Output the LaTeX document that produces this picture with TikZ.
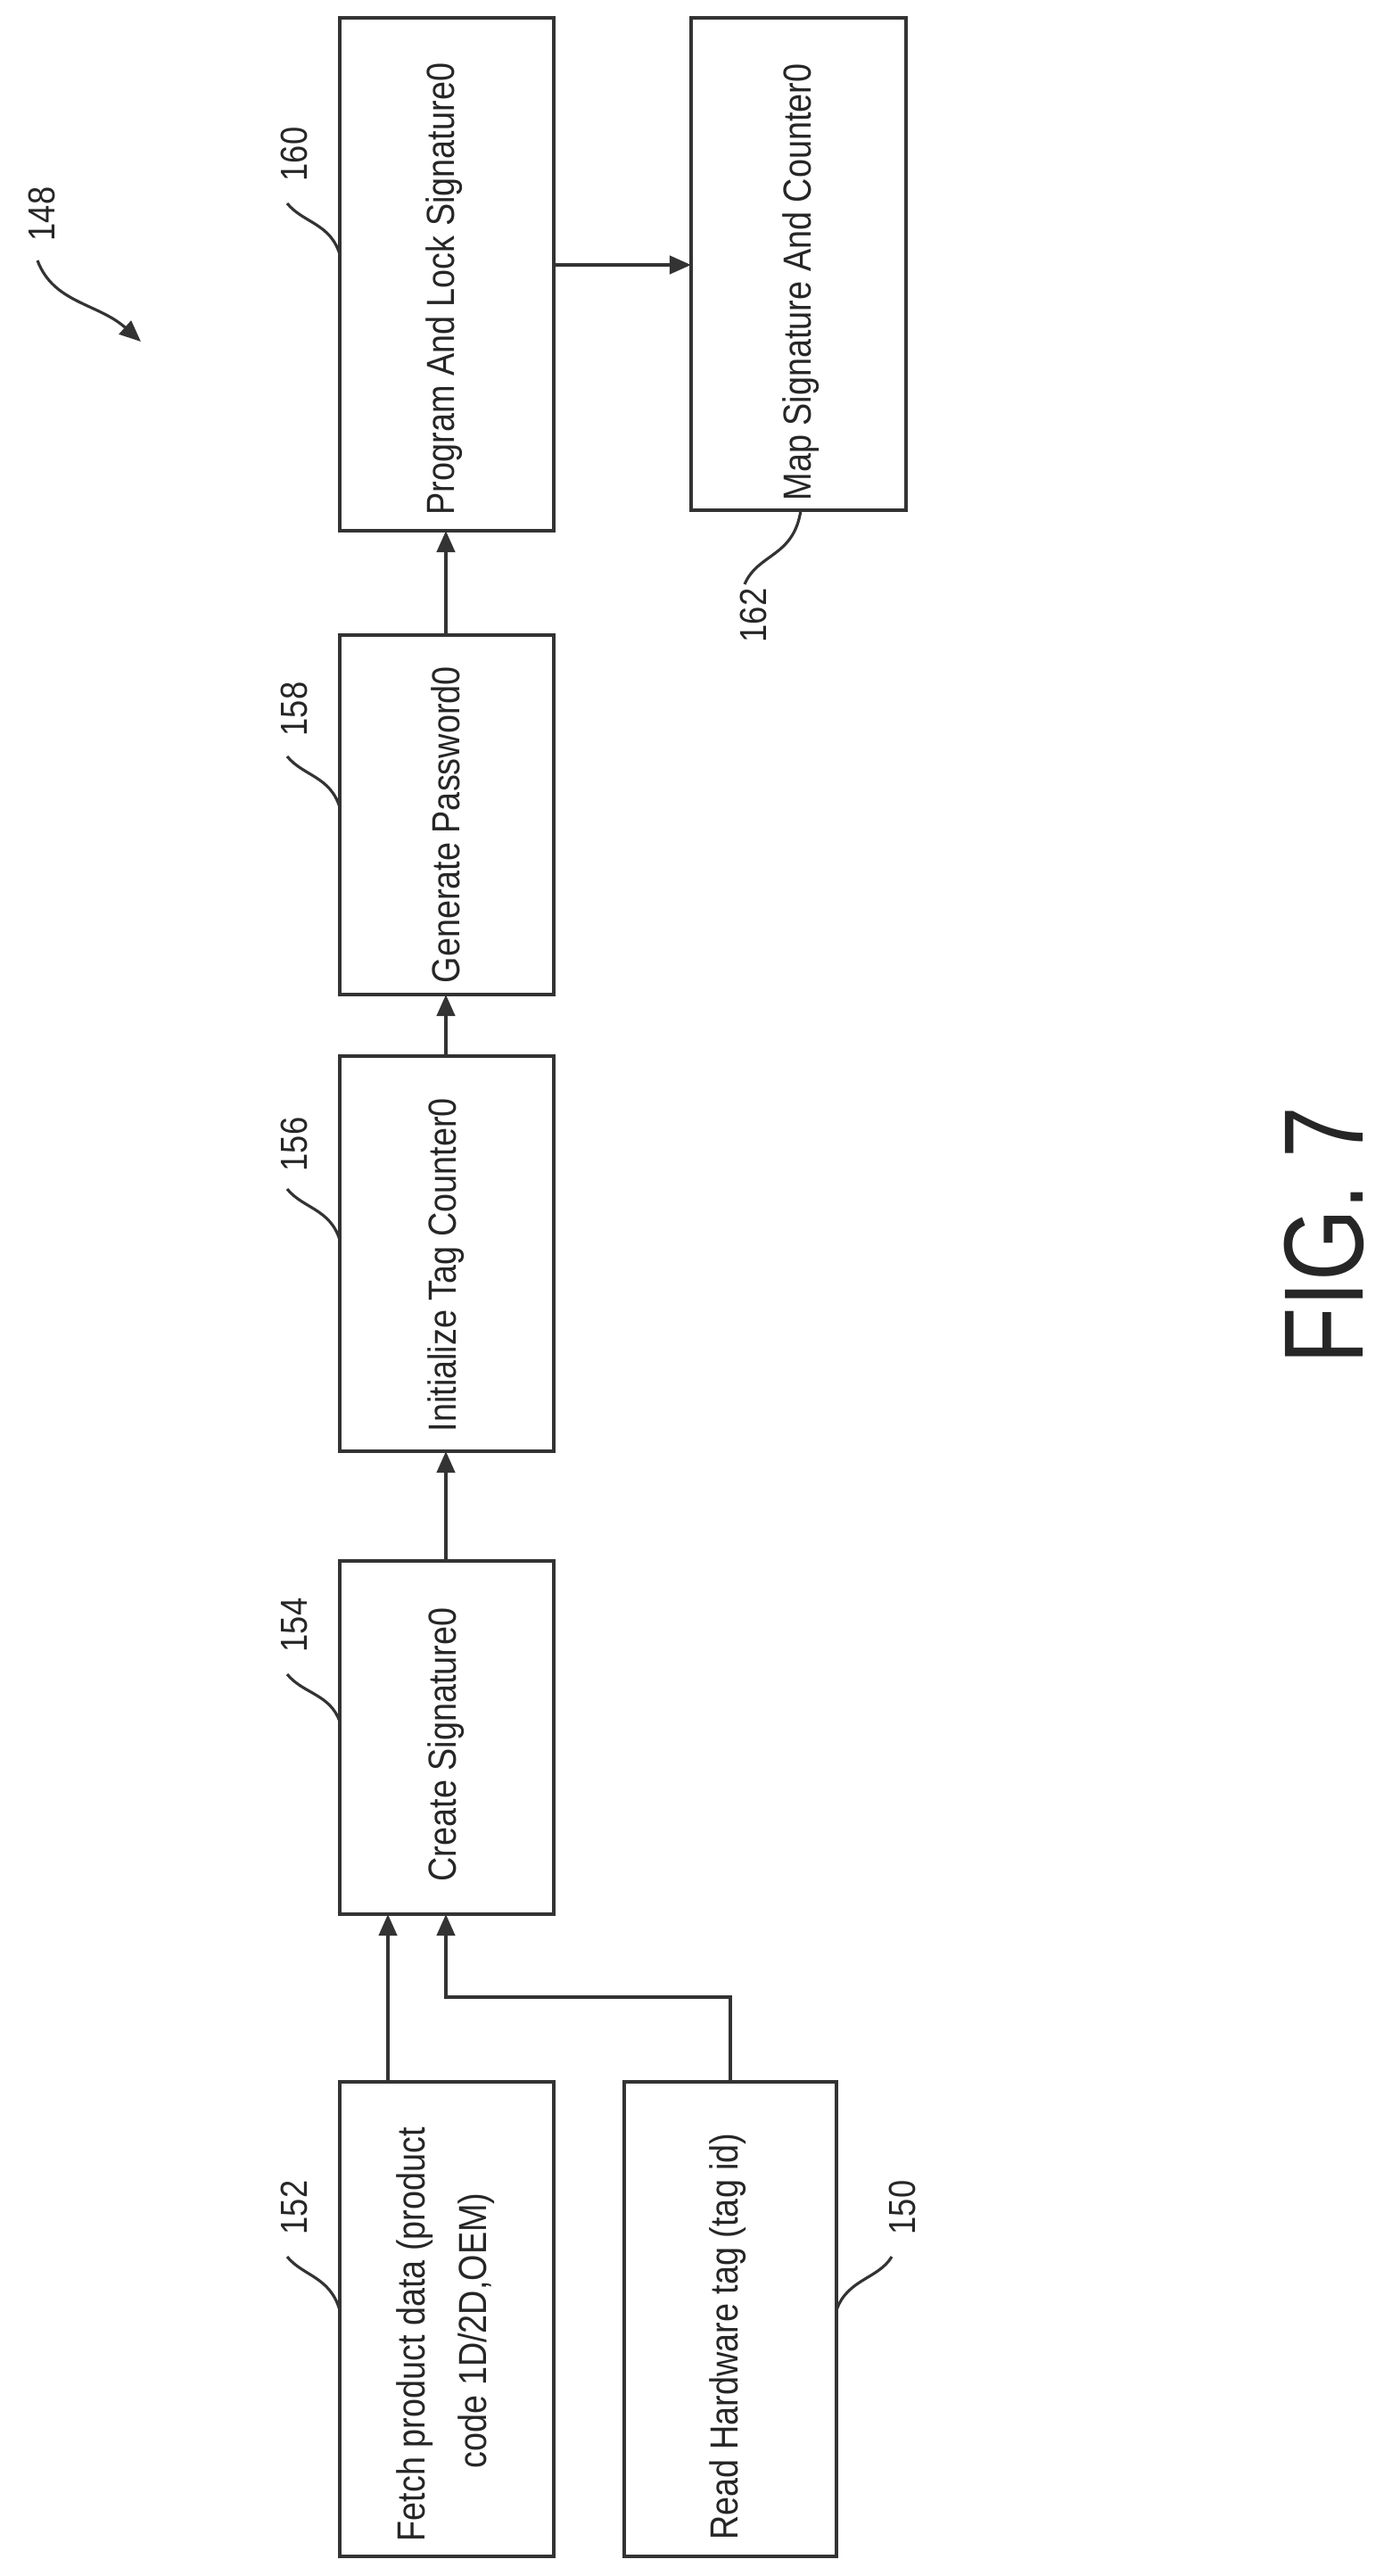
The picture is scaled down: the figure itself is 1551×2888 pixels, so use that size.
\documentclass[tikz,border=0pt]{standalone}
\usepackage{fontspec}
\setmainfont{Liberation Sans}
\usetikzlibrary{arrows.meta}
\newcommand{\cz}[1]{\scalebox{0.86}[1]{#1}}
\begin{document}
\begin{tikzpicture}[x=0.01cm,y=-0.01cm,
  ln/.style={line width=1.2pt,draw=black!80},
  box/.style={ln},
  arr/.style={ln,-{Triangle[length=0.24cm,width=0.2cm]}},
  txt/.style={rotate=90,anchor=west,font=\fontsize{12.5}{16}\selectfont,text=black!85,inner sep=0pt},
  num/.style={rotate=90,font=\fontsize{12}{14}\selectfont,text=black!85,inner sep=0pt},
  lead/.style={line width=0.9pt,draw=black!80}]
\useasboundingbox (0,0) rectangle (1551,2888);
% boxes
\draw[box] (381,20) rectangle (621,595);
\draw[box] (775,20) rectangle (1016,572);
\draw[box] (381,712) rectangle (621,1115);
\draw[box] (381,1184) rectangle (621,1627);
\draw[box] (381,1750) rectangle (621,2146);
\draw[box] (381,2334) rectangle (621,2866);
\draw[box] (700,2334) rectangle (938,2866);
% anchors
\coordinate (n160b) at (500,595); \coordinate (n160r) at (621,297);
\coordinate (n162l) at (775,297);
\coordinate (n158t) at (500,712); \coordinate (n158b) at (500,1115);
\coordinate (n156t) at (500,1184); \coordinate (n156b) at (500,1627);
\coordinate (n154t) at (500,1750); \coordinate (n154b) at (500,2146);
\coordinate (n154ba) at (435,2146);
\coordinate (n152t) at (435,2334); \coordinate (n150t) at (819,2334);
\coordinate (j) at (819,2239); \coordinate (j2) at (500,2239);
% texts
\node[txt] (t160) at (498,578) {\cz{Program And Lock Signature0}};
\node[txt] (t162) at (898,562) {\cz{Map Signature And Counter0}};
\node[txt] (t158) at (500,1103) {\cz{Generate Password0}};
\node[txt] (t156) at (500,1606) {\cz{Initialize Tag Counter0}};
\node[txt] (t154) at (500,2110) {\cz{Create Signature0}};
\node[txt] (t152a) at (465,2850) {\cz{Fetch product data (product}};
\node[txt] (t152b) at (534,2768) {\cz{code 1D/2D,OEM)}};
\node[txt] (t150) at (816,2848) {\cz{Read Hardware tag (tag id)}};
% arrows
\draw[arr] (n160r) -- (n162l);
\draw[arr] (n158t) -- (n160b);
\draw[arr] (n156t) -- (n158b);
\draw[arr] (n154t) -- (n156b);
\draw[arr] (n152t) -- (n154ba);
\draw[arr] (n150t) -- (j) -- (j2) -- (n154b);
% reference numerals
\node[num] (l148) at (47,240) {\cz{148}};
\node[num] (l160) at (330,173) {\cz{160}};
\node[num] (l158) at (330,795) {\cz{158}};
\node[num] (l156) at (330,1283) {\cz{156}};
\node[num] (l154) at (330,1822) {\cz{154}};
\node[num] (l152) at (330,2475) {\cz{152}};
\node[num] (l150) at (1012,2475) {\cz{150}};
\node[num] (l162) at (845,690) {\cz{162}};
\draw[lead,-{Triangle[length=0.24cm,width=0.2cm]}] (42,292) .. controls (60,340) and (110,340) .. (158,383);
\draw[lead] (322,228) .. controls (340,250) and (370,250) .. (381,285);
\draw[lead] (322,848) .. controls (340,870) and (370,870) .. (381,905);
\draw[lead] (322,1333) .. controls (340,1355) and (370,1355) .. (381,1390);
\draw[lead] (322,1877) .. controls (340,1899) and (370,1899) .. (381,1930);
\draw[lead] (322,2530) .. controls (340,2552) and (370,2552) .. (381,2590);
\draw[lead] (1000,2530) .. controls (985,2555) and (950,2555) .. (938,2590);
\draw[lead] (835,655) .. controls (850,620) and (890,625) .. (898,572);
\node[rotate=90,font=\fontsize{36}{40}\selectfont,text=black!85] (fig) at (1485,1385) {\scalebox{0.82}[1]{FIG. 7}};
\end{tikzpicture}
\end{document}
